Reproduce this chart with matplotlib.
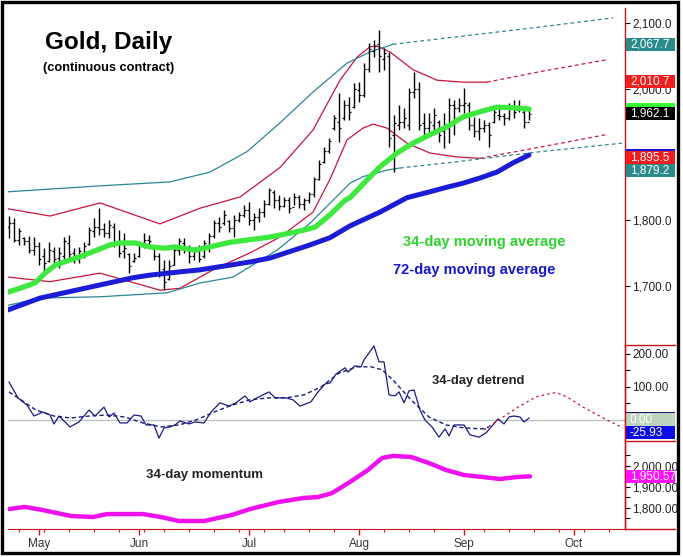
import numpy as np
import matplotlib.pyplot as plt
import matplotlib.transforms as mtransforms
from matplotlib.patches import Rectangle
from matplotlib.lines import Line2D
from matplotlib.ticker import FuncFormatter

plt.rcParams['font.family'] = ['Liberation Sans', 'DejaVu Sans']

# ---- price bars (trading-day index 0..104) ----
highs = [1806, 1803, 1788, 1774, 1776, 1774, 1766, 1757, 1766, 1759, 1759, 1774, 1777, 1757, 1759,
         1766, 1789, 1803, 1818, 1795, 1800, 1795, 1785, 1780, 1750, 1750, 1766, 1780, 1777, 1759,
         1750, 1739, 1739, 1762, 1773, 1773, 1762, 1759, 1762, 1770, 1780, 1800, 1805, 1815, 1800,
         1808, 1812, 1823, 1827, 1811, 1818, 1830, 1849, 1846, 1838, 1835, 1835, 1841, 1838, 1834,
         1843, 1866, 1891, 1911, 1925, 1960, 1994, 1983, 1987, 2009, 2010, 2039, 2070, 2074, 2090,
         2062, 2056, 1960, 1975, 1971, 2001, 2026, 2010, 1963, 1963, 1971, 1952, 1963, 1986, 1983,
         1986, 2001, 1980, 1957, 1955, 1952, 1949, 1972, 1971, 1963, 1978, 1983, 1983, 1968, 1968]
lows = [1773, 1766, 1762, 1762, 1750, 1747, 1731, 1716, 1736, 1731, 1727, 1736, 1742, 1734, 1734,
        1742, 1762, 1774, 1777, 1774, 1773, 1759, 1744, 1742, 1719, 1736, 1744, 1757, 1759, 1739,
        1713, 1693, 1709, 1731, 1747, 1750, 1734, 1739, 1736, 1742, 1751, 1773, 1782, 1792, 1782,
        1774, 1797, 1805, 1792, 1785, 1797, 1805, 1823, 1818, 1815, 1820, 1811, 1823, 1818, 1815,
        1826, 1835, 1861, 1887, 1902, 1937, 1919, 1952, 1952, 1971, 1980, 1987, 2026, 2048, 2026,
        2029, 1911, 1873, 1937, 1940, 1937, 1986, 1937, 1925, 1930, 1933, 1919, 1910, 1917, 1930,
        1965, 1963, 1937, 1926, 1922, 1934, 1911, 1948, 1952, 1945, 1952, 1955, 1965, 1940, 1952]
opens = [1790, 1795, 1770, 1772, 1768, 1755, 1760, 1745, 1738, 1752, 1742, 1745, 1765, 1750, 1745,
         1750, 1764, 1783, 1790, 1786, 1780, 1790, 1765, 1752, 1748, 1738, 1745, 1762, 1770, 1758,
         1745, 1725, 1710, 1732, 1755, 1765, 1755, 1745, 1752, 1745, 1762, 1776, 1795, 1795, 1798,
         1788, 1800, 1808, 1815, 1800, 1805, 1812, 1825, 1843, 1830, 1822, 1830, 1820, 1835, 1825,
         1830, 1840, 1862, 1888, 1905, 1940, 1950, 1955, 1975, 1972, 1998, 1990, 2030, 2058, 2068,
         2045, 2050, 1930, 1945, 1950, 1945, 1995, 2000, 1948, 1940, 1945, 1950, 1935, 1940, 1975,
         1970, 1975, 1975, 1945, 1935, 1940, 1945, 1950, 1960, 1958, 1955, 1970, 1968, 1965, 1950]
closes = [1795, 1770, 1783, 1768, 1755, 1760, 1740, 1735, 1755, 1740, 1750, 1768, 1748, 1745, 1752,
          1760, 1785, 1790, 1786, 1780, 1792, 1765, 1750, 1758, 1730, 1742, 1760, 1770, 1768, 1745,
          1720, 1705, 1730, 1755, 1768, 1758, 1745, 1752, 1740, 1765, 1775, 1795, 1790, 1808, 1788,
          1800, 1808, 1815, 1800, 1805, 1812, 1825, 1845, 1830, 1822, 1830, 1818, 1835, 1825, 1830,
          1840, 1862, 1885, 1905, 1920, 1955, 1940, 1975, 1965, 2000, 1990, 2030, 2060, 2065, 2050,
          2055, 1925, 1948, 1950, 1955, 1995, 2000, 1945, 1940, 1950, 1960, 1930, 1945, 1975, 1970,
          1975, 1978, 1945, 1935, 1940, 1945, 1930, 1965, 1958, 1955, 1970, 1965, 1970, 1950, 1962.1]

# ---- moving averages and envelopes (day, value) ----
ma34_day = [-0.2, 2.2, 5.2, 7.2, 9.2, 12.2, 14.2, 17.2, 20.2, 22.2, 25.2, 28.2, 31.2, 33.2, 37.2, 40.2,
            44.2, 48.2, 52.2, 56.2, 59.2, 61.2, 64.2, 67.2, 68.2, 71.6, 74.2, 77.6, 80.8, 84.2, 87.6,
            90.8, 94.2, 97.6, 100.8, 104]
ma34_val = [1690, 1696, 1704, 1719, 1731, 1739, 1744, 1753, 1762, 1765, 1765, 1759, 1757, 1759, 1754, 1759,
            1766, 1770, 1774, 1780, 1785, 1789, 1808, 1830, 1834, 1861, 1881, 1902, 1917, 1930, 1942,
            1957, 1965, 1972, 1971, 1969]
ma72_day = [-0.2, 6.2, 11.6, 18.2, 24.8, 28.2, 34.2, 38.2, 48.2, 52.2, 56.2, 60.2, 64.2, 68.2, 74.2,
            79.6, 84.2, 87.6, 90.8, 94.2, 97.6, 100.8, 104]
ma72_val = [1663, 1681, 1690, 1701, 1712, 1716, 1721, 1724, 1736, 1742, 1752, 1762, 1773, 1791, 1812,
            1834, 1843, 1850, 1856, 1864, 1873, 1887, 1899]

red_up_day = [-0.2, 8.2, 18.2, 30.2, 38.2, 46.2, 54.2, 60.8, 66.2, 69.6, 72.2, 73.6, 76.2, 80.8, 85.6, 90.8, 95.6]
red_up_val = [1817, 1806, 1826, 1794, 1818, 1835, 1880, 1937, 2013, 2048, 2064, 2065, 2056, 2029, 2013, 2010, 2010]
red_up_proj_day = [95.6, 106.2, 119.4]
red_up_proj_val = [2010, 2026, 2044]
red_lo_day = [-0.2, 8.2, 18.2, 30.2, 34.2, 40.8, 48.2, 54.2, 60.8, 64.2, 67.6, 70.8, 72.8, 75.6, 79.6, 84.2, 89.6, 94.2]
red_lo_val = [1713, 1706, 1719, 1693, 1696, 1724, 1750, 1774, 1812, 1862, 1922, 1940, 1946, 1940, 1917, 1902, 1896, 1894]
red_lo_proj_day = [94.2, 106.2, 119.4]
red_lo_proj_val = [1894, 1911, 1930]

teal_up_day = [-0.2, 18.2, 32.2, 40.2, 47.6, 54.2, 60.8, 67.6, 72.2, 76.8]
teal_up_val = [1843, 1852, 1858, 1873, 1904, 1948, 1995, 2039, 2056, 2067.7]
teal_up_proj_day = [76.8, 106.2, 120.8]
teal_up_proj_val = [2067.7, 2094, 2108]
teal_lo_day = [-0.2, 6.2, 18.2, 31.6, 38.2, 44.8, 53.6, 60.2, 68.2, 70.8, 75.6, 78.2]
teal_lo_val = [1670, 1681, 1683, 1689, 1704, 1713, 1754, 1795, 1856, 1866, 1876, 1879.2]
teal_lo_proj_day = [78.2, 87.6, 106.2, 122.6]
teal_lo_proj_val = [1879.2, 1887, 1904, 1917]

# ---- 34-day detrend ----
det_day = [0, 1.8, 3.6, 5, 6.8, 8.2, 9, 10, 12.2, 14, 16, 17.2, 19, 20, 21, 22.2, 23.6, 25, 26.4, 27.4,
           29, 30, 31, 32.2, 33.2, 34.2, 36, 37.2, 39, 40.4, 42.2, 44, 45.4, 47.2, 48.2, 49.6, 52, 53.2,
           55.4, 56.8, 58.2, 60.4, 61.8, 63.2, 64.2, 65.4, 67.2, 67.8, 69.2, 70.4, 71, 73, 74, 75, 76,
           77.2, 78, 79, 80, 81, 82.2, 83.2, 84.6, 86, 87.2, 88, 89, 91, 92.2, 94, 95.4, 96.8, 97.8, 99,
           100, 101, 102.2, 103, 104]
det_val = [115, 67, 45, 12, 24, 15, -12, 12, -21, -6, 30, 12, 39, 9, 21, -9, -9, 15, 12, -15,
           -15, -55, -24, -21, -15, -3, -12, -6, -9, 24, 52, 42, 52, 73, 55, 67, 85, 67,
           67, 61, 42, 55, 85, 109, 112, 139, 158, 145, 164, 161, 182, 224, 176, 176, 76,
           73, 85, 52, 88, 91, 30, 0, -21, -52, -27, -48, -15, -15, -45, -52, -39, -15, 3, -12,
           9, 12, 9, -6, 6]
det_avg_day = [0, 2.4, 5.4, 9, 12.4, 16, 19.6, 23.2, 26.8, 30.4, 34, 37.4, 41, 44.6, 48.2, 51.8, 55.4,
               59, 62.4, 66, 69.6, 72.4, 74.6, 76.8, 80.4, 84, 87.4, 91, 94.6, 96]
det_avg_val = [85, 61, 30, 12, 6, 12, 15, 9, -9, -21, -15, 0, 24, 45, 61, 67, 67,
               76, 100, 142, 161, 161, 152, 121, 61, 9, -15, -24, -27, -21]
det_proj_day = [95, 98.2, 101.8, 105.4, 108.8, 109.6, 111.6, 114.8, 119.6, 122.8]
det_proj_val = [-30, 3, 39, 70, 82, 82, 70, 39, 0, -24]

# ---- 34-day momentum ----
mom_day = [0, 3.2, 6.8, 12.4, 16.8, 19.6, 26.8, 30.4, 34, 39, 44.6, 48.2, 54, 59, 61.8, 64.6, 68.2,
           71.8, 74.6, 76.8, 80.4, 84, 87.4, 91, 94.6, 98.2, 101.8, 104.2]
mom_val = [1795, 1805, 1790, 1762, 1757, 1771, 1771, 1757, 1738, 1738, 1767, 1795, 1829, 1848, 1852, 1871, 1924,
           1981, 2038, 2048, 2043, 2014, 1981, 1957, 1948, 1938, 1948, 1950.57]

# ---- x axis ----
month_days = [6, 26, 48, 70, 91, 113]
month_names = ['May', 'Jun', 'Jul', 'Aug', 'Sep', 'Oct']
week_days = [2, 7, 12, 17, 22, 27, 31, 36, 41, 46, 51, 55, 60, 65, 75, 80, 85, 95, 100, 105, 110, 115, 120]

# ---- right-axis value boxes ----
price_boxes = [(1969.0, '', '#33ff33'), (1962.1, '1,962.1', '#000000'),
               (2067.7, '2,067.7', '#2b8a8a'), (2010.7, '2,010.7', '#f21c1c'),
               (1899.0, '', '#1414dd'), (1895.5, '1,895.5', '#f21c1c'), (1879.2, '1,879.2', '#2b8a8a')]

W, H = 683, 557
fig = plt.figure(figsize=(W / 100, H / 100), dpi=100)
fig.patch.set_facecolor('white')


def fx(px):
    return px / W


def fy(py):
    return 1 - py / H


L, R = 8, 625
T1, B1, B2 = 8, 345, 529
AXRED = '#cc1022'
ax = fig.add_axes([fx(L), fy(B1), fx(R) - fx(L), fy(T1) - fy(B1)])
axd = fig.add_axes([fx(L), fy(B2), fx(R) - fx(L), fy(B1) - fy(B2)])
axm = axd.twinx()

for a in (ax, axd, axm):
    a.set_xlim(-0.2, 123.2)
    a.patch.set_alpha(0)
    for s in ('left', 'top', 'bottom'):
        a.spines[s].set_visible(False)
    a.spines['right'].set_color(AXRED)
    a.spines['right'].set_linewidth(1)
    a.yaxis.tick_right()
    a.tick_params(axis='y', which='both', direction='out', color='black', pad=1.5,
                  labelsize=8.5, labelcolor='#222222')
    a.tick_params(axis='y', which='major', length=3.5, width=0.8)
    a.tick_params(axis='y', which='minor', length=3.5, width=0.8)
axd.spines['bottom'].set_visible(True)
axd.spines['bottom'].set_color(AXRED)

# main panel
days = np.arange(len(highs))
ax.set_ylim(1609.5, 2123)
c_red, c_teal = '#c8143c', '#2a8696'
ax.plot(red_up_day, red_up_val, color=c_red, lw=0.9)
ax.plot(red_lo_day, red_lo_val, color=c_red, lw=0.9)
ax.plot(red_up_proj_day, red_up_proj_val, color=c_red, lw=0.9, ls=(0, (3, 2.5)))
ax.plot(red_lo_proj_day, red_lo_proj_val, color=c_red, lw=0.9, ls=(0, (3, 2.5)))
ax.plot(teal_up_day, teal_up_val, color=c_teal, lw=0.9)
ax.plot(teal_lo_day, teal_lo_val, color=c_teal, lw=0.9)
ax.plot(teal_up_proj_day, teal_up_proj_val, color=c_teal, lw=0.9, ls=(0, (3, 2.5)))
ax.plot(teal_lo_proj_day, teal_lo_proj_val, color=c_teal, lw=0.9, ls=(0, (3, 2.5)))
ax.vlines(days, lows, highs, color='black', lw=1.0)
ax.hlines(opens, days - 0.45, days, color='black', lw=0.9)
ax.hlines(closes, days, days + 0.45, color='black', lw=0.9)
ax.plot(ma34_day, ma34_val, color='#3ee83e', lw=3.8, solid_capstyle='round')
ax.plot(ma72_day, ma72_val, color='#1c1cd6', lw=3.6, solid_capstyle='round')
ax.set_yticks([1700, 1800, 1900, 2000, 2100])
ax.yaxis.set_major_formatter(FuncFormatter(lambda v, p: f'{v:,.1f}'))
ax.tick_params(axis='x', bottom=False, labelbottom=False)

# lower panel
axd.set_ylim(-330, 227)
axm.set_ylim(1700, 2576)
axd.axhline(0, color='#b9c3c3', lw=1)
axd.plot(det_avg_day, det_avg_val, color='#1a1a80', lw=1, ls=(0, (3, 2)))
axd.plot(det_day, det_val, color='#1a1a80', lw=0.9)
axd.plot(det_proj_day, det_proj_val, color=c_red, lw=0.9, ls=(0, (2, 2.5)))
axm.plot(mom_day, mom_val, color='#ee11ee', lw=3.2, solid_capstyle='round')
axd.set_yticks([0, 100, 200])
axd.set_yticks([50, 150], minor=True)
axd.yaxis.set_major_formatter(FuncFormatter(lambda v, p: f'{v:,.2f}'))
axm.set_yticks([1800, 1900, 2000])
axm.set_yticks([1750, 1850, 1950, 2050], minor=True)
axm.yaxis.set_major_formatter(FuncFormatter(lambda v, p: f'{v:,.2f}'))
axm.tick_params(axis='x', bottom=False, labelbottom=False)

axd.set_xticks(month_days)
axd.set_xticklabels(month_names)
axd.set_xticks(week_days, minor=True)
axd.tick_params(axis='x', which='both', direction='out', color=AXRED, labelsize=8.5,
                labelcolor='#333333', pad=2)
axd.tick_params(axis='x', which='major', length=4.5, width=1)
axd.tick_params(axis='x', which='minor', length=2.2, width=0.8)

# value boxes on the right axis
BX0, BX1 = (626 - L) / (R - L), (675 - L) / (R - L)
TX = (630 - L) / (R - L)


def draw_boxes(a, boxes, h_px=13):
    lo, hi = a.get_ylim()
    h = h_px * (hi - lo) / (a.get_position().height * H)
    tr = mtransforms.blended_transform_factory(a.transAxes, a.transData)
    prev = None
    for val, txt, col in boxes:
        y = val
        if txt and prev is not None and y > prev - h and y < prev:
            y = prev - h
        if txt:
            prev = y
        a.add_patch(Rectangle((BX0, y - h / 2), BX1 - BX0, h, transform=tr, facecolor=col,
                              edgecolor='none', clip_on=False, zorder=5))
        if txt:
            a.text(TX, y, txt, transform=tr, color='white', fontsize=8.5, va='center', ha='left',
                   clip_on=False, zorder=6)


draw_boxes(ax, price_boxes)
draw_boxes(axd, [(det_val[-1], '', '#141466'), (0.0, '0.00', '#bdd5bd'), (-25.93, '-25.93', '#0c0ce6')])
draw_boxes(axm, [(mom_val[-1], '1,950.57', '#ff10ff')])

# red rules in the label column and frame
for py in (B1, 441, B2):
    fig.add_artist(Line2D([fx(R), fx(675)], [fy(py), fy(py)], color=AXRED, lw=1))
fig.add_artist(Rectangle((fx(2), fy(553)), fx(678) - fx(2), fy(2) - fy(553), transform=fig.transFigure,
                         fill=False, edgecolor='black', lw=2.4))

# titles and annotations
fig.text(fx(45), fy(42), 'Gold, Daily', fontsize=17.5, fontweight='bold', va='center', ha='left')
fig.text(fx(43), fy(68), '(continuous contract)', fontsize=9.2, fontweight='bold', va='center', ha='left')
fig.text(fx(403), fy(242), '34-day moving average', fontsize=10.5, fontweight='bold', color='#2ad22a',
         va='center', ha='left')
fig.text(fx(393), fy(270), '72-day moving average', fontsize=10.5, fontweight='bold', color='#1616cc',
         va='center', ha='left')
fig.text(fx(432), fy(381), '34-day detrend', fontsize=9.4, fontweight='bold', color='#222222',
         va='center', ha='left')
fig.text(fx(146), fy(475), '34-day momentum', fontsize=9.5, fontweight='bold', color='#222222',
         va='center', ha='left')

fig.savefig('out.png', dpi=100, facecolor='white')
